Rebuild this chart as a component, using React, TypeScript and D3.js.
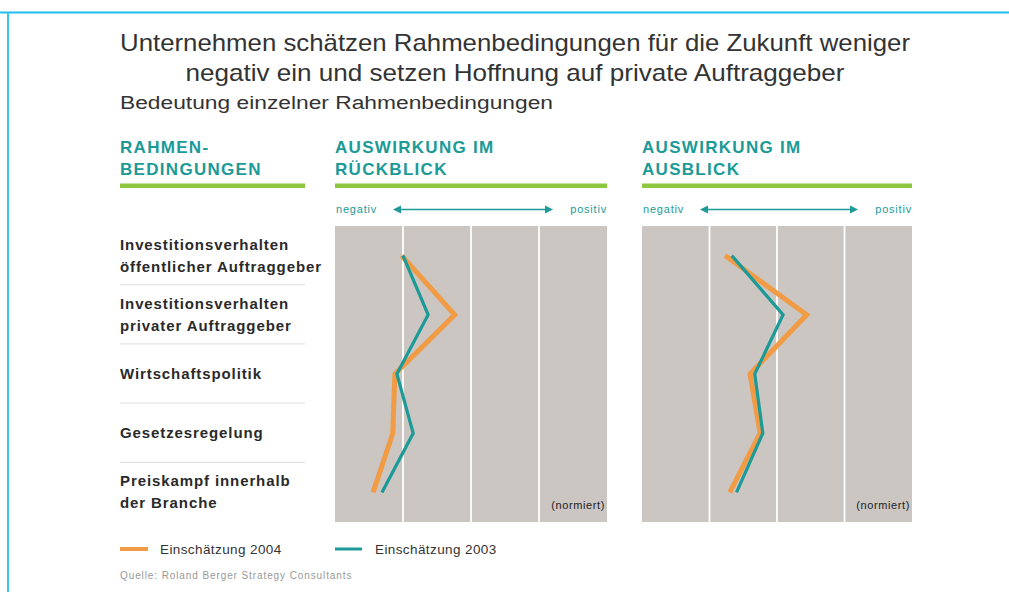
import * as d3 from "d3";

const width = 1009;
const height = 592;

const titleLines = [
  "Unternehmen schätzen Rahmenbedingungen für die Zukunft weniger",
  "negativ ein und setzen Hoffnung auf private Auftraggeber",
];
const subtitle = "Bedeutung einzelner Rahmenbedingungen";

const rowLabels = [
  ["Investitionsverhalten", "öffentlicher Auftraggeber"],
  ["Investitionsverhalten", "privater Auftraggeber"],
  ["Wirtschaftspolitik"],
  ["Gesetzesregelung"],
  ["Preiskampf innerhalb", "der Branche"],
];

// normierte Werte, 0 = ganz negativ, 4 = ganz positiv
const rueckblick2004 = [0.98, 1.76, 0.88, 0.85, 0.56];
const rueckblick2003 = [1.0, 1.37, 0.91, 1.15, 0.69];
const ausblick2004 = [1.23, 2.44, 1.6, 1.75, 1.3];
const ausblick2003 = [1.33, 2.09, 1.67, 1.79, 1.4];
const gridTicks = [1, 2, 3];

const teal = "#1b9a98";
const orange = "#f19b45";
const green = "#8dc63f";
const panelFill = "#cbc6c2";
const font = "'Liberation Sans', Arial, sans-serif";

const rowTop = 226;
const rowBottom = 522;
const y = d3
  .scaleBand<number>()
  .domain(rowLabels.map((_, i) => i))
  .range([rowTop, rowBottom]);
const yc = (i: number) => (y(i) as number) + y.bandwidth() / 2;

function Header({ x, lines }: { x: number; lines: string[] }) {
  return (
    <g fill={teal} fontWeight="bold" fontSize={17} letterSpacing={1.3}>
      <text x={x} y={153}>
        {lines[0]}
      </text>
      <text x={x} y={175}>
        {lines[1]}
      </text>
    </g>
  );
}

function Panel({ x0, x1, title, v2004, v2003 }: any) {
  const x = d3.scaleLinear().domain([0, 4]).range([x0, x1]);
  const line = d3
    .line<number>()
    .x((d) => x(d))
    .y((_, i) => yc(i));
  return (
    <g>
      <Header x={x0} lines={title} />
      <rect x={x0} y={183.5} width={x1 - x0} height={4.5} fill={green} />
      <text x={x0 + 1} y={213} fill={teal} fontSize={11} letterSpacing={0.8}>
        negativ
      </text>
      <text x={x1} y={213} fill={teal} fontSize={11} letterSpacing={0.8} textAnchor="end">
        positiv
      </text>
      <line x1={x0 + 64} x2={x1 - 60} y1={209.5} y2={209.5} stroke={teal} strokeWidth={1.5} />
      <path d={`M${x0 + 58},209.5 l8,-4 v8 z`} fill={teal} />
      <path d={`M${x1 - 54},209.5 l-8,-4 v8 z`} fill={teal} />
      <rect x={x0} y={rowTop} width={x1 - x0} height={rowBottom - rowTop} fill={panelFill} />
      {gridTicks.map((t) => (
        <line key={t} x1={x(t)} x2={x(t)} y1={rowTop} y2={rowBottom} stroke="#fff" strokeWidth={1.8} />
      ))}
      <path d={line(v2004) as string} fill="none" stroke={orange} strokeWidth={5} strokeLinejoin="miter" />
      <path d={line(v2003) as string} fill="none" stroke={teal} strokeWidth={3.2} strokeLinejoin="miter" />
      <text x={x1 - 2} y={509} fontSize={11} letterSpacing={0.6} fill="#222" textAnchor="end">
        (normiert)
      </text>
    </g>
  );
}

export default function App() {
  return (
    <svg
      width={width}
      height={height}
      style={{ position: "absolute", left: 0, top: 0, background: "#fff" }}
      fontFamily={font}
    >
      <line x1={0} x2={width} y1={12.5} y2={12.5} stroke="#1ec0ee" strokeWidth={2} />
      <line x1={8} x2={8} y1={12} y2={height} stroke="#3ec3ee" strokeWidth={2} />

      {titleLines.map((t, i) => (
        <text
          key={i}
          x={515}
          y={51 + i * 30}
          textAnchor="middle"
          fontSize={24}
          fill="#333"
          textLength={i === 0 ? 790 : 659}
          lengthAdjust="spacingAndGlyphs"
        >
          {t}
        </text>
      ))}
      <text x={120} y={109} fontSize={18} fill="#333" textLength={433} lengthAdjust="spacingAndGlyphs">
        {subtitle}
      </text>

      {/* Spalte Rahmenbedingungen */}
      <Header x={120} lines={["RAHMEN-", "BEDINGUNGEN"]} />
      <rect x={120} y={183.5} width={185} height={4.5} fill={green} />
      {rowLabels.map((lines, i) => (
        <text key={i} fontSize={15} fontWeight="bold" fill="#2a2a2a" letterSpacing={0.9}>
          {lines.map((l, j) => (
            <tspan key={j} x={120} y={yc(i) + 5 + (j - (lines.length - 1) / 2) * 22}>
              {l}
            </tspan>
          ))}
        </text>
      ))}
      {rowLabels.slice(1).map((_, i) => (
        <line
          key={i}
          x1={120}
          x2={305}
          y1={(y(i + 1) as number) - 0.5}
          y2={(y(i + 1) as number) - 0.5}
          stroke="#ddd"
          strokeWidth={1}
        />
      ))}

      <Panel x0={335} x1={607} title={["AUSWIRKUNG IM", "RÜCKBLICK"]} v2004={rueckblick2004} v2003={rueckblick2003} />
      <Panel x0={642} x1={912} title={["AUSWIRKUNG IM", "AUSBLICK"]} v2004={ausblick2004} v2003={ausblick2003} />

      {/* Legende */}
      <line x1={120} x2={148} y1={549} y2={549} stroke={orange} strokeWidth={4} />
      <text x={160} y={554} fontSize={13.5} fill="#333" letterSpacing={0.4}>
        Einschätzung 2004
      </text>
      <line x1={335} x2={362} y1={549} y2={549} stroke={teal} strokeWidth={3} />
      <text x={375} y={554} fontSize={13.5} fill="#333" letterSpacing={0.4}>
        Einschätzung 2003
      </text>
      <text x={120} y={579} fontSize={10} fill="#999" letterSpacing={0.9}>
        Quelle: Roland Berger Strategy Consultants
      </text>
    </svg>
  );
}
